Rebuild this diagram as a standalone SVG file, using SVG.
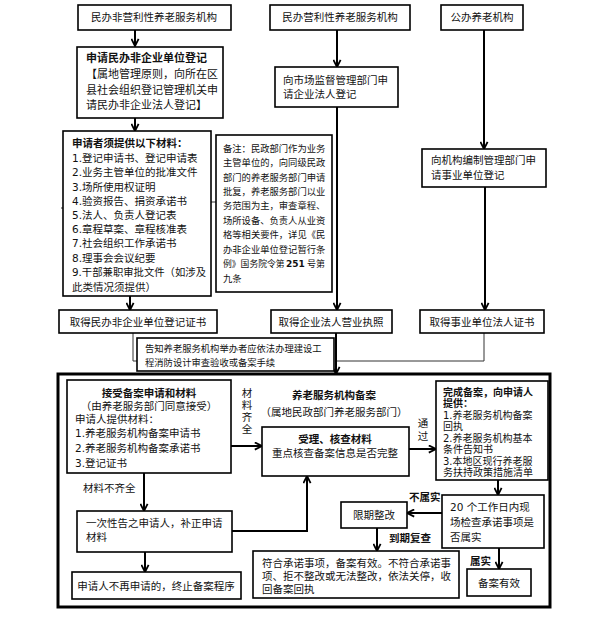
<svg xmlns="http://www.w3.org/2000/svg" width="590" height="628" viewBox="0 0 590 628">
<style>
text{font-family:"DejaVu Sans","Noto Sans CJK SC",sans-serif;font-size:10.5px;fill:#111}
.b{font-weight:bold}
.c{text-anchor:middle}
.box{fill:#fff;stroke:#000;stroke-width:1.6}
.thin{fill:none;stroke:#333;stroke-width:1}
.ln{fill:none;stroke:#000;stroke-width:2}
.n{font-size:9.3px}
.f{font-size:10px}
.e{font-size:11px}
.s{font-size:8.8px}
.t{font-size:9px}
</style>
<defs>
<marker id="ah" viewBox="0 0 10 10" refX="9" refY="5" markerWidth="9" markerHeight="9" markerUnits="userSpaceOnUse" orient="auto">
<path d="M1,1 L9,5 L1,9" fill="none" stroke="#000" stroke-width="2"/>
</marker>
</defs>
<rect width="590" height="628" fill="#fff"/>

<g id="connectors">
<line class="ln" x1="135" y1="30" x2="135" y2="46" marker-end="url(#ah)"/>
<line class="ln" x1="135" y1="118" x2="135" y2="131" marker-end="url(#ah)"/>
<line class="ln" x1="130" y1="296" x2="130" y2="310" marker-end="url(#ah)"/>
<polyline class="thin" points="61,208 190,208 192,202 216,202"/>
<line class="ln" x1="337" y1="30" x2="337" y2="67" marker-end="url(#ah)"/>
<line class="ln" x1="337" y1="107" x2="337" y2="310" marker-end="url(#ah)"/>
<line class="ln" x1="484" y1="30" x2="484" y2="149" marker-end="url(#ah)"/>
<line class="ln" x1="485" y1="187" x2="485" y2="310" marker-end="url(#ah)"/>
<polyline class="thin" points="133,333 133,361 137,361"/>
<polyline class="thin" points="484,333 484,361 336,361"/>
<line class="ln" x1="336" y1="333" x2="336" y2="374" marker-end="url(#ah)"/>
<line class="ln" x1="231" y1="446" x2="262" y2="446" marker-end="url(#ah)"/>
<line class="ln" x1="409" y1="449" x2="436" y2="449" marker-end="url(#ah)"/>
<line class="ln" x1="498" y1="480" x2="498" y2="495" marker-end="url(#ah)"/>
<line class="ln" x1="442" y1="513" x2="407" y2="513" marker-end="url(#ah)"/>
<line class="ln" x1="377" y1="528" x2="377" y2="551" marker-end="url(#ah)"/>
<line class="ln" x1="499" y1="548" x2="499" y2="569" marker-end="url(#ah)"/>
<polyline class="ln" points="232,531 307,531 307,476" marker-end="url(#ah)"/>
<line class="ln" x1="144" y1="473" x2="144" y2="511" marker-end="url(#ah)"/>
<line class="ln" x1="145" y1="552" x2="145" y2="572" marker-end="url(#ah)"/>
<text x="247" y="397" class="c">材</text>
<text x="247" y="409" class="c">料</text>
<text x="247" y="421" class="c">齐</text>
<text x="247" y="433" class="c">全</text>
<text x="423" y="427" class="c">通</text>
<text x="423" y="440" class="c">过</text>
<text x="409" y="501" class="b">不属实</text>
<text x="389" y="542" class="b">到期复查</text>
<text x="470" y="565" class="b">属实</text>
<text x="83" y="492">材料不齐全</text>
</g>

<g id="outer"><rect x="58" y="374" width="492" height="233" fill="none" stroke="#000" stroke-width="3"/></g>

<g id="nA"><rect class="box" x="78" y="5" width="153" height="25"/><text x="154" y="21" class="c">民办非营利性养老服务机构</text></g>
<g id="nB"><rect class="box" x="270" y="5" width="140" height="25"/><text x="340" y="21" class="c">民办营利性养老服务机构</text></g>
<g id="nC"><rect class="box" x="441" y="5" width="82" height="25"/><text x="482" y="21" class="c">公办养老机构</text></g>

<g id="nA2"><rect class="box" x="77" y="47" width="146" height="71"/>
<text x="86" y="62" class="b e">申请民办非企业单位登记</text>
<text x="86" y="78" class="e">【属地管理原则，向所在区</text>
<text x="86" y="94" class="e">县社会组织登记管理机关申</text>
<text x="86" y="109" class="e">请民办非企业法人登记】</text>
</g>

<g id="nA3"><rect class="box" x="63" y="131" width="148" height="165"/>
<text x="72" y="147" class="b">申请者须提供以下材料：</text>
<text x="72" y="162">1.登记申请书、登记申请表</text>
<text x="72" y="176">2.业务主管单位的批准文件</text>
<text x="72" y="191">3.场所使用权证明</text>
<text x="72" y="205">4.验资报告、捐资承诺书</text>
<text x="72" y="219">5.法人、负责人登记表</text>
<text x="72" y="233">6.章程草案、章程核准表</text>
<text x="72" y="247">7.社会组织工作承诺书</text>
<text x="72" y="262">8.理事会会议纪要</text>
<text x="72" y="276" textLength="134" lengthAdjust="spacingAndGlyphs">9.干部兼职审批文件（如涉及</text>
<text x="72" y="291">此类情况须提供）</text>
</g>

<g id="nNote"><rect class="box" x="216" y="135" width="116" height="157"/>
<text x="223" y="152" class="n">备注：民政部门作为业务</text>
<text x="223" y="166" class="n">主管单位的，向同级民政</text>
<text x="223" y="181" class="n">部门的养老服务部门申请</text>
<text x="223" y="195" class="n">批复，养老服务部门以业</text>
<text x="223" y="209" class="n">务范围为主，审查章程、</text>
<text x="223" y="224" class="n">场所设备、负责人从业资</text>
<text x="223" y="238" class="n">格等相关要件，详见《民</text>
<text x="223" y="253" class="n">办非企业单位登记暂行条</text>
<text x="223" y="267" class="s">例》国务院令第</text>
<text x="286" y="267" class="t b">251</text>
<text x="307" y="267" class="t">号第</text>
<text x="223" y="282" class="n">九条</text>
</g>

<g id="nB2"><rect class="box" x="275" y="67" width="123" height="40"/>
<text x="283" y="84">向市场监督管理部门申</text>
<text x="283" y="98">请企业法人登记</text>
</g>

<g id="nC2"><rect class="box" x="422" y="149" width="124" height="38"/>
<text x="431" y="164">向机构编制管理部门申</text>
<text x="431" y="179">请事业单位登记</text>
</g>

<g id="nA4"><rect class="box" x="59" y="310" width="158" height="23"/><text x="138" y="326" class="c">取得民办非企业单位登记证书</text></g>
<g id="nB3"><rect class="box" x="271" y="310" width="121" height="23"/><text x="331" y="326" class="c">取得企业法人营业执照</text></g>
<g id="nC3"><rect class="box" x="420" y="310" width="124" height="23"/><text x="482" y="326" class="c">取得事业单位法人证书</text></g>

<g id="nNotice"><rect class="box" x="137" y="338" width="197" height="33"/>
<text x="145" y="352" class="n">告知养老服务机构举办者应依法办理建设工</text>
<text x="145" y="366" class="n">程消防设计审查验收或备案手续</text>
</g>

<g id="nD"><rect class="box" x="67" y="380" width="164" height="93"/>
<text x="149" y="397" class="c b">接受备案申请和材料</text>
<text x="149" y="410" class="c">（由养老服务部门同意接受）</text>
<text x="75" y="423">申请人提供材料：</text>
<text x="75" y="437">1.养老服务机构备案申请书</text>
<text x="75" y="452">2.养老服务机构备案承诺书</text>
<text x="75" y="467">3.登记证书</text>
</g>

<g id="nTitle">
<text x="334" y="399" class="c b">养老服务机构备案</text>
<text x="334" y="416" class="c">（属地民政部门养老服务部门）</text>
</g>

<g id="nE"><rect class="box" x="262" y="427" width="147" height="49"/>
<text x="335" y="443" class="c b">受理、核查材料</text>
<text x="335" y="457" class="c">重点核查备案信息是否完整</text>
</g>

<g id="nF"><rect class="box" x="436" y="381" width="112" height="99"/>
<text x="443" y="396" class="b f">完成备案，向申请人</text>
<text x="443" y="407" class="b f">提供：</text>
<text x="443" y="419" class="f">1.养老服务机构备案</text>
<text x="443" y="430" class="f">回执</text>
<text x="443" y="442" class="f">2.养老服务机构基本</text>
<text x="443" y="453" class="f">条件告知书</text>
<text x="443" y="465" class="f">3.本地区现行养老服</text>
<text x="443" y="476" class="f">务扶持政策措施清单</text>
</g>

<g id="nG"><rect class="box" x="442" y="495" width="102" height="53"/>
<text x="450" y="511">20 个工作日内现</text>
<text x="450" y="526">场检查承诺事项是</text>
<text x="450" y="541">否属实</text>
</g>

<g id="nH"><rect class="box" x="341" y="502" width="66" height="26"/><text x="374" y="519" class="c">限期整改</text></g>

<g id="nI"><rect class="box" x="253" y="551" width="206" height="47"/>
<text x="262" y="567">符合承诺事项，备案有效。不符合承诺事</text>
<text x="262" y="580">项、拒不整改或无法整改，依法关停，收</text>
<text x="262" y="593">回备案回执</text>
</g>

<g id="nJ"><rect class="box" x="467" y="569" width="64" height="27"/><text x="499" y="587" class="c">备案有效</text></g>

<g id="nK"><rect class="box" x="77" y="511" width="155" height="41"/>
<text x="86" y="527">一次性告之申请人，补正申请</text>
<text x="86" y="541">材料</text>
</g>

<g id="nL"><rect class="box" x="72" y="572" width="169" height="27"/><text x="156" y="590" class="c">申请人不再申请的，终止备案程序</text></g>
</svg>
